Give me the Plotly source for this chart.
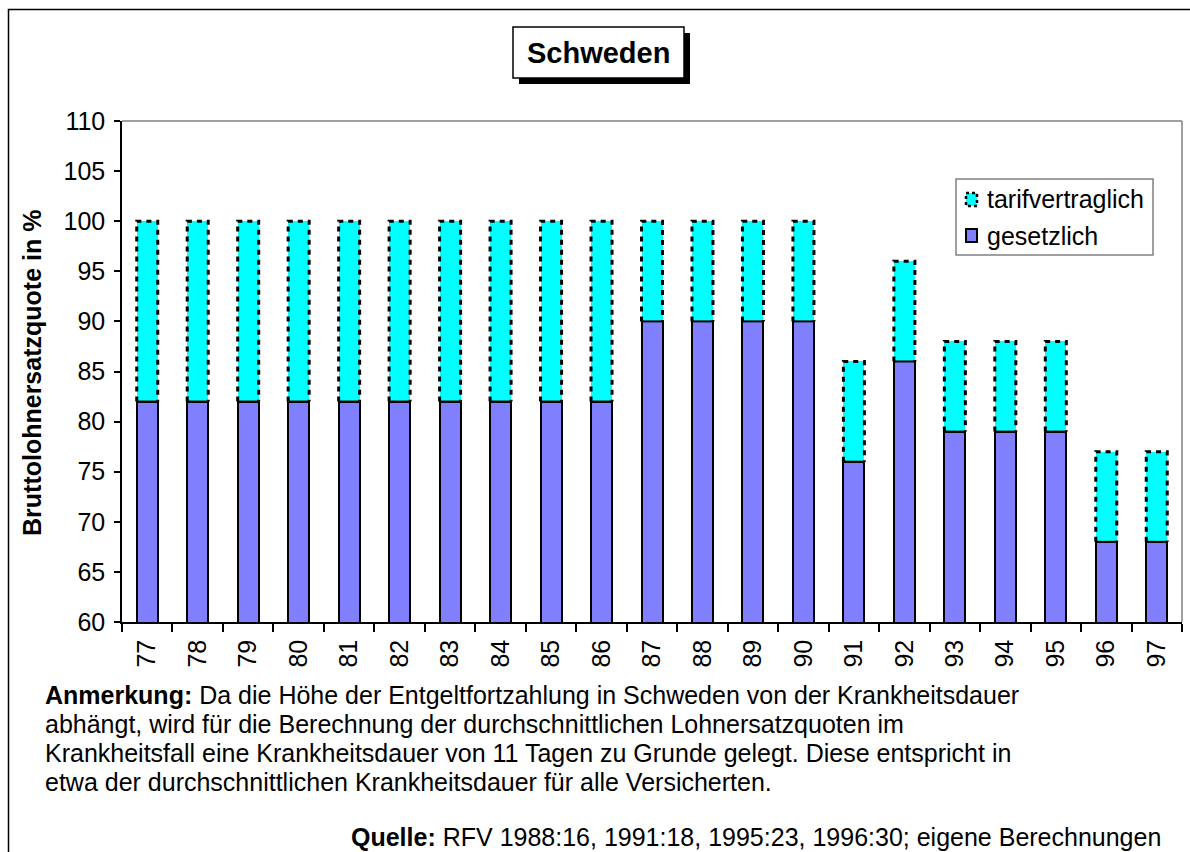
import plotly.graph_objects as go

# Jahre (1977-1997) und Lohnersatzquoten in %
jahre = ["77", "78", "79", "80", "81", "82", "83", "84", "85", "86", "87",
         "88", "89", "90", "91", "92", "93", "94", "95", "96", "97"]
gesetzlich = [82, 82, 82, 82, 82, 82, 82, 82, 82, 82, 90,
              90, 90, 90, 76, 86, 79, 79, 79, 68, 68]
tarifvertraglich = [18, 18, 18, 18, 18, 18, 18, 18, 18, 18, 10,
                    10, 10, 10, 10, 10, 9, 9, 9, 9, 9]

anmerkung = [
    "<b>Anmerkung:</b> Da die Höhe der Entgeltfortzahlung in Schweden von der Krankheitsdauer",
    "abhängt, wird für die Berechnung der durchschnittlichen Lohnersatzquoten im",
    "Krankheitsfall eine Krankheitsdauer von 11 Tagen zu Grunde gelegt. Diese entspricht in",
    "etwa der durchschnittlichen Krankheitsdauer für alle Versicherten.",
]
quelle = "<b>Quelle:</b> RFV 1988:16, 1991:18, 1995:23, 1996:30; eigene Berechnungen"

W, H = 1190, 852
L, R, T, B = 122, 8, 121, 230
PW, PH = W - L - R, H - T - B
FONT = "Arial, Liberation Sans, sans-serif"
FS = 25
BAR_W = 0.416


def px(x):
    return (x - L) / PW


def py(y):
    return (H - B - y) / PH


idx = list(range(len(jahre)))
gesamt = [g + t for g, t in zip(gesetzlich, tarifvertraglich)]

fig = go.Figure()
fig.add_trace(go.Bar(
    x=idx, y=gesetzlich, width=BAR_W, name="gesetzlich",
    marker=dict(color="#8080FF", line=dict(color="black", width=2)),
))
fig.add_trace(go.Bar(
    x=idx, y=tarifvertraglich, width=BAR_W, name="tarifvertraglich",
    marker=dict(color="#00FFFF", line=dict(width=0)),
))

# gestrichelte Umrandung der tarifvertraglichen Anteile
ox, oy = [], []
for i, g, s in zip(idx, gesetzlich, gesamt):
    ox += [i - BAR_W / 2, i - BAR_W / 2, i + BAR_W / 2, i + BAR_W / 2, None]
    oy += [g, s, s, g, None]
fig.add_trace(go.Scatter(
    x=ox, y=oy, mode="lines", hoverinfo="skip",
    line=dict(color="black", width=3, dash="5px,5px"),
))
# durchgezogene Oberkante der gesetzlichen Anteile
tx, ty = [], []
for i, g in zip(idx, gesetzlich):
    tx += [i - BAR_W / 2, i + BAR_W / 2, None]
    ty += [g, g, None]
fig.add_trace(go.Scatter(
    x=tx, y=ty, mode="lines", hoverinfo="skip",
    line=dict(color="black", width=2),
))

shapes = []
# äußerer Rahmen
shapes.append(dict(type="rect", xref="paper", yref="paper",
                   x0=px(8.5), x1=px(1210), y0=py(9.5), y1=py(880),
                   line=dict(color="black", width=1.5), layer="below"))
# graue Begrenzung oben und rechts
shapes.append(dict(type="line", xref="paper", yref="paper",
                   x0=0, x1=1, y0=1, y1=1, line=dict(color="#808080", width=1.5)))
shapes.append(dict(type="line", xref="paper", yref="paper",
                   x0=1, x1=1, y0=0, y1=1, line=dict(color="#808080", width=1.5)))
# Titelkasten mit Schatten
shapes.append(dict(type="rect", xref="paper", yref="paper",
                   x0=px(519), x1=px(690), y0=py(33), y1=py(84),
                   fillcolor="black", line=dict(width=0)))
shapes.append(dict(type="rect", xref="paper", yref="paper",
                   x0=px(513), x1=px(684), y0=py(27), y1=py(78),
                   fillcolor="white", line=dict(color="black", width=1.5)))
# Legende
shapes.append(dict(type="rect", xref="paper", yref="paper",
                   x0=px(956), x1=px(1153), y0=py(179), y1=py(255),
                   fillcolor="white", line=dict(color="#808080", width=1.5)))
shapes.append(dict(type="rect", xref="paper", yref="paper",
                   x0=px(966), x1=px(977), y0=py(193), y1=py(206),
                   fillcolor="#00FFFF", line=dict(color="black", width=2.5, dash="3px,3px")))
shapes.append(dict(type="rect", xref="paper", yref="paper",
                   x0=px(966), x1=px(977), y0=py(229), y1=py(242),
                   fillcolor="#8080FF", line=dict(color="black", width=2)))

annotations = [
    dict(text="<b>Schweden</b>", x=px(598.5), y=py(53), font=dict(size=29)),
    dict(text="<b>Bruttolohnersatzquote in %</b>", x=px(32), y=py(373),
         textangle=-90, font=dict(size=25)),
    dict(text="tarifvertraglich", x=px(985), y=py(199), xanchor="left",
         font=dict(size=FS)),
    dict(text="gesetzlich", x=px(985), y=py(236), xanchor="left",
         font=dict(size=FS)),
    dict(text=quelle, x=px(1163), y=py(837), xanchor="right",
         font=dict(size=FS)),
]
for k, zeile in enumerate(anmerkung):
    annotations.append(dict(text=zeile, x=px(43), y=py(695 + 29 * k),
                            xanchor="left", font=dict(size=FS)))
for a in annotations:
    a.setdefault("xanchor", "center")
    a.setdefault("yanchor", "middle")
    a.update(xref="paper", yref="paper", showarrow=False)
    a["font"].update(family=FONT, color="black")

fig.update_layout(
    width=W, height=H, autosize=False,
    margin=dict(l=L, r=R, t=T, b=B, pad=0),
    paper_bgcolor="white", plot_bgcolor="white",
    barmode="stack", bargap=0, showlegend=False,
    font=dict(family=FONT, color="black", size=FS),
    shapes=shapes, annotations=annotations,
    xaxis=dict(
        range=[-0.5, len(jahre) - 0.5], tickmode="array",
        tickvals=idx, ticktext=jahre, tickangle=-90, ticks="",
        tickfont=dict(size=FS), showgrid=False, zeroline=False,
        ticklabelstandoff=6,
        showline=True, linecolor="black", linewidth=1.5,
        minor=dict(tickmode="array", tickvals=[i - 0.5 for i in range(len(jahre) + 1)],
                   ticks="outside", ticklen=8, tickwidth=1.5, tickcolor="black",
                   showgrid=False),
    ),
    yaxis=dict(
        range=[60, 110], dtick=5, ticks="outside", ticklen=6, tickwidth=1.5,
        tickcolor="black", tickfont=dict(size=FS), showgrid=False,
        ticklabelstandoff=4,
        zeroline=False, showline=True, linecolor="black", linewidth=1.5,
    ),
)

fig.write_html("out.html")
